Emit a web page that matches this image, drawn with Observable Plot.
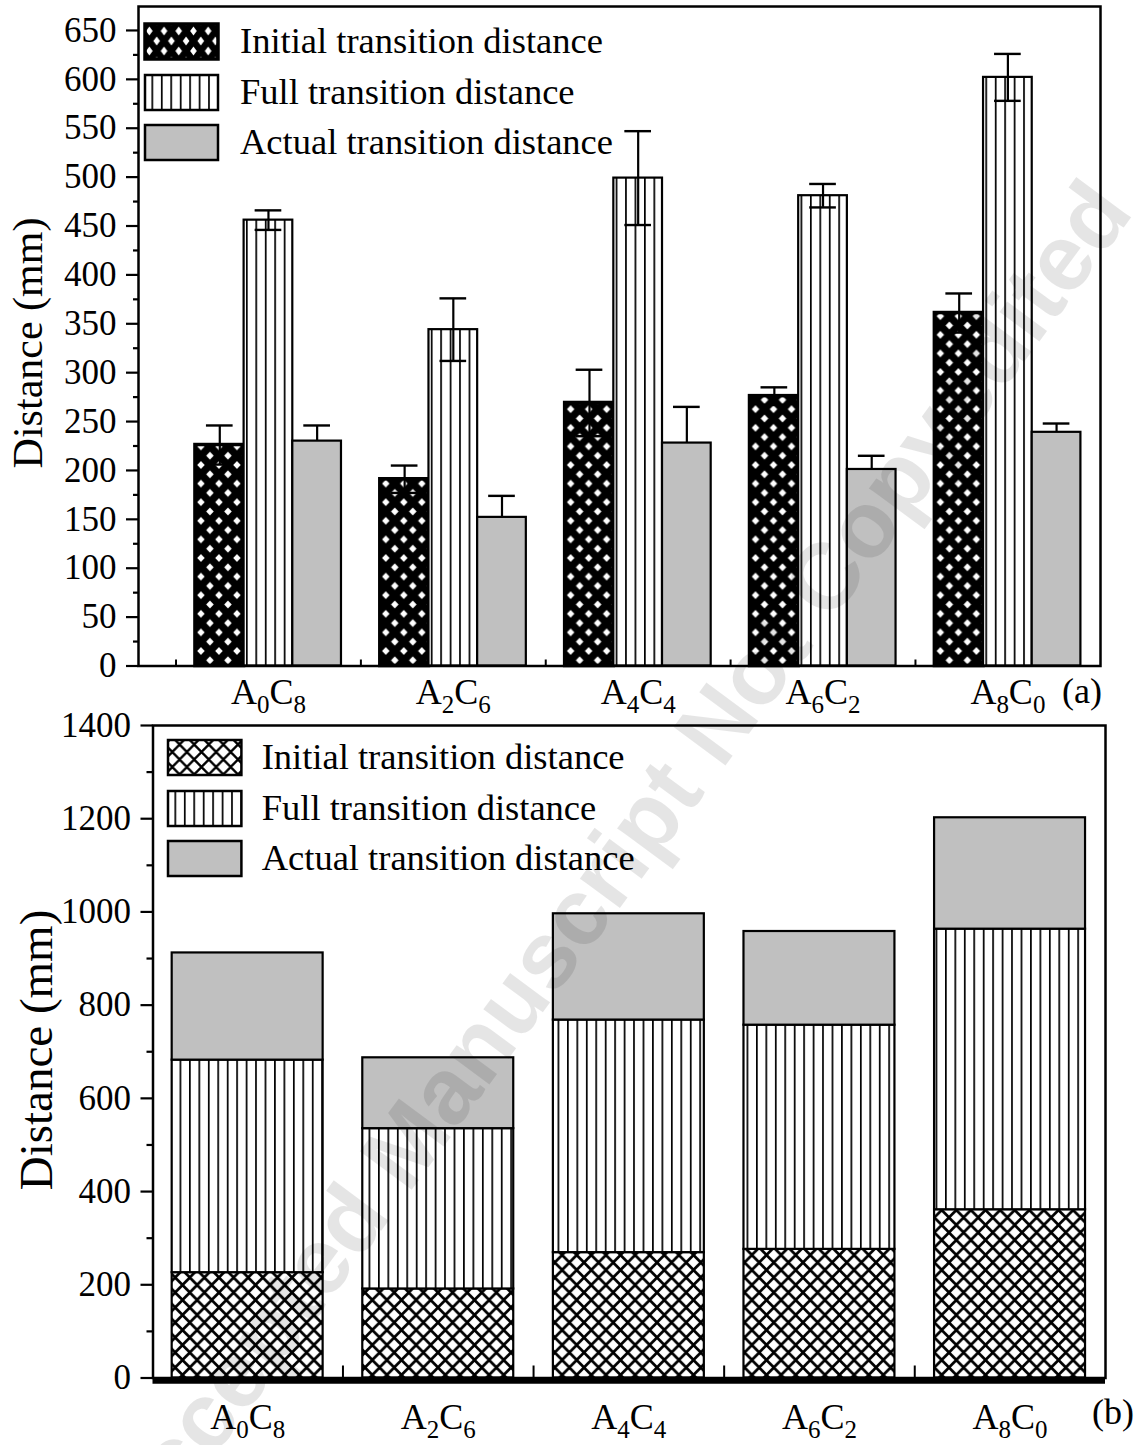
<!DOCTYPE html>
<html><head><meta charset="utf-8">
<script src="https://cdn.jsdelivr.net/npm/d3@7"></script>
<script src="https://cdn.jsdelivr.net/npm/@observablehq/plot@0.6"></script>
<style>
body{margin:0;background:#fff;}
#wrap{position:relative;width:1136px;height:1445px;overflow:hidden;background:#fff;font-family:"Liberation Serif","Times New Roman",serif;color:#000;}
.panel{position:absolute;left:0;}
.leg{position:absolute;font-size:36.5px;line-height:1;white-space:nowrap;}
.sw{position:absolute;}
.ytitle{position:absolute;transform:translate(-50%,-50%) rotate(-90deg);white-space:nowrap;line-height:1;}
.tag{position:absolute;font-size:36px;line-height:1;white-space:nowrap;}
.wm{position:absolute;left:612px;top:865px;transform:translate(-50%,-50%) rotate(-53.5deg);font-family:"Liberation Sans",Arial,sans-serif;font-weight:bold;font-size:94px;color:rgba(0,0,0,0.10);white-space:nowrap;pointer-events:none;line-height:1;}
</style></head>
<body><div id="wrap"></div>
<script>
// ---------------- data ----------------
const categories = ["A0C8", "A2C6", "A4C4", "A6C2", "A8C0"];
const seriesNames = ["Initial transition distance", "Full transition distance", "Actual transition distance"];
const initialDistance = [226, 191, 269, 276, 361];
const fullDistance = [456, 344, 499, 481, 602];
const actualDistance = [230, 152, 228, 201, 239];
const initialError = [20, 14, 34, 9, 20];
const fullError = [10, 32, 48, 12, 24];
const actualError = [16, 22, 37, 14, 9];
const yTicksA = [0, 50, 100, 150, 200, 250, 300, 350, 400, 450, 500, 550, 600, 650];
const yMinorA = [25, 75, 125, 175, 225, 275, 325, 375, 425, 475, 525, 575, 625];
const yTicksB = [0, 200, 400, 600, 800, 1000, 1200, 1400];
const yMinorB = [100, 300, 500, 700, 900, 1100, 1300];

// ---------------- table ----------------
const seriesValues = [initialDistance, fullDistance, actualDistance];
const seriesErrors = [initialError, fullError, actualError];
const rows = [];
categories.forEach((c, i) => seriesNames.forEach((s, k) => rows.push({cat: c, series: s, k, value: seriesValues[k][i], err: seriesErrors[k][i]})));

// ---------------- patterns ----------------
function crossPattern(id, w, h, k, bg, fg) {
  const a = k * w / 2, b = k * h / 2;
  const dia = (cx, cy) => `<polygon fill="${fg}" points="${cx},${cy - b} ${cx + a},${cy} ${cx},${cy + b} ${cx - a},${cy}"/>`;
  return `<pattern id="${id}" patternUnits="userSpaceOnUse" width="${w}" height="${h}">
    <rect width="${w}" height="${h}" fill="${bg}"/>
    ${dia(w / 2, h / 2)}${dia(0, 0)}${dia(w, 0)}${dia(0, h)}${dia(w, h)}</pattern>`;
}
function stripePattern(id, w, lw) {
  return `<pattern id="${id}" patternUnits="userSpaceOnUse" width="${w}" height="10">
    <rect width="${w}" height="10" fill="#fff"/><rect x="0" y="0" width="${lw}" height="10" fill="#000"/></pattern>`;
}
const wrap = document.getElementById("wrap");
wrap.insertAdjacentHTML("beforeend", `<svg width="0" height="0" style="position:absolute;left:0;top:0"><defs>
  ${crossPattern("crossA", 18, 18.6, 0.42, "#000", "#fff")}
  ${crossPattern("crossAL", 14.7, 20, 0.45, "#000", "#fff")}
  ${crossPattern("crossB", 14.6, 15, 0.74, "#000", "#fff")}
  ${crossPattern("crossBL", 14.6, 15, 0.78, "#000", "#fff")}
  ${stripePattern("vstripe", 9.45, 1.7)}
</defs></svg>`);

const font = '"Liberation Serif","Times New Roman",serif';

// category labels with real subscripts (A0C8 -> A₀C₈ drawn with tspans)
function subscriptLabels(svg) {
  const ns = "http://www.w3.org/2000/svg";
  svg.querySelectorAll("text").forEach(t => {
    const m = /^A(\d)C(\d)$/.exec(t.textContent);
    if (!m) return;
    t.textContent = "";
    [["A", 0, null], [m[1], 9, "25px"], ["C", -9, null], [m[2], 9, "25px"]].forEach(([s, dy, fs]) => {
      const sp = document.createElementNS(ns, "tspan");
      sp.textContent = s;
      if (dy) sp.setAttribute("dy", dy);
      if (fs) sp.setAttribute("font-size", fs);
      t.appendChild(sp);
    });
  });
}

// ---------------- panel (a): grouped bars with error bars ----------------
const A = {left: 138, right: 36, width: 1136, pIn: 0.21, pOut: 0.207, align: 0.744, k: 635.5 / 650};
const rangeA = A.width - A.right - A.left;
const stepA = rangeA / (categories.length - A.pIn + 2 * A.pOut);
const spanA = stepA * (categories.length - A.pIn);
const offsetA = (rangeA - spanA) * A.align;      // first facet offset from frame left
const rightOuterA = rangeA - spanA - offsetA;     // last facet gap to frame right
const bwA = stepA * (1 - A.pIn);

const plotA = Plot.plot({
  width: A.width, height: 720,
  marginTop: 6, marginBottom: 54.5, marginLeft: A.left, marginRight: A.right,
  style: {fontFamily: font, fontSize: "36px", background: "transparent", overflow: "visible", color: "#000"},
  fx: {domain: categories, paddingInner: A.pIn, paddingOuter: A.pOut, align: A.align, round: false,
       axis: "bottom", label: null, tickSize: 0, tickPadding: 12},
  x: {domain: seriesNames, paddingInner: 0, paddingOuter: 0, round: false, axis: null},
  y: {domain: [0, 674.5], axis: null},
  color: {domain: seriesNames, range: ["url(#crossA)", "url(#vstripe)", "#c0c0c0"]},
  marks: [
    Plot.barY(rows, {fx: "cat", x: "series", y: "value", fill: "series", stroke: "#000",
                     strokeWidth: d => d.k === 0 ? 3.5 : 2.2}),
    Plot.ruleX(rows, {fx: "cat", x: "series", y1: d => d.k === 2 ? d.value : d.value - d.err, y2: d => d.value + d.err,
                      stroke: "#000", strokeWidth: 2.2}),
    Plot.tickY(rows, {fx: "cat", x: "series", y: d => d.value + d.err, stroke: "#000", strokeWidth: 2.4, insetLeft: 11, insetRight: 11}),
    Plot.tickY(rows.filter(d => d.k !== 2), {fx: "cat", x: "series", y: d => d.value - d.err, stroke: "#000", strokeWidth: 2.4, insetLeft: 11, insetRight: 11}),
    // small inward ticks on the bottom axis, between the groups
    Plot.ruleX(rows.filter(d => d.k === 0), {fx: "cat", x: "series", y1: 0, y2: 6 / A.k, stroke: "#000", strokeWidth: 2,
                      dx: -(stepA * A.pIn) / 2 - bwA / 6}),
    Plot.axisY({ticks: yTicksA, tickSize: 12, tickPadding: 10, fontSize: 35, strokeWidth: 2.2, label: null, dx: -offsetA}),
    Plot.axisY({ticks: yMinorA, tickSize: 5, tickFormat: () => "", strokeWidth: 2.2, label: null, dx: -offsetA}),
    Plot.frame({facet: "super", stroke: "#000", strokeWidth: 2.5, insetLeft: -offsetA, insetRight: -rightOuterA})
  ]
});
subscriptLabels(plotA);
plotA.classList.add("panel");
plotA.style.top = "0px";
wrap.appendChild(plotA);

// ---------------- panel (b): stacked bars ----------------
const B = {left: 152.5, right: 31, width: 1136, pIn: 0.208, pOut: 0.1027, align: 0.49, k: 652.5 / 1400};
const stepB = (B.width - B.right - B.left) / (categories.length - B.pIn + 2 * B.pOut);
const plotB = Plot.plot({
  width: B.width, height: 745,
  marginTop: 25, marginBottom: 67.5, marginLeft: B.left, marginRight: B.right,
  style: {fontFamily: font, fontSize: "36px", background: "transparent", overflow: "visible", color: "#000"},
  x: {domain: categories, paddingInner: B.pIn, paddingOuter: B.pOut, align: B.align, round: false,
      label: null, tickSize: 0, tickPadding: 25},
  y: {domain: [0, 1400], axis: null},
  color: {domain: seriesNames, range: ["url(#crossB)", "url(#vstripe)", "#c0c0c0"]},
  marks: [
    Plot.barY(rows, {x: "cat", y: "value", fill: "series", stroke: "#000", strokeWidth: 2.2}),
    Plot.ruleX(categories.slice(0, -1), {x: d => d, y1: 0, y2: 12 / B.k, stroke: "#000", strokeWidth: 2, dx: stepB / 2}),
    Plot.ruleY([0], {stroke: "#000", strokeWidth: 5.5, dy: 3}),
    Plot.axisY({ticks: yTicksB, tickSize: 12, tickPadding: 10, fontSize: 35, tickFormat: d => String(d), strokeWidth: 2.2, label: null}),
    Plot.axisY({ticks: yMinorB, tickSize: 6, tickFormat: () => "", strokeWidth: 2.2, label: null}),
    Plot.frame({stroke: "#000", strokeWidth: 2.5})
  ]
});
subscriptLabels(plotB);
plotB.classList.add("panel");
plotB.style.top = "700px";
wrap.appendChild(plotB);

// ---------------- legends, titles, tags ----------------
function legend(items) {
  items.forEach(it => {
    wrap.insertAdjacentHTML("beforeend",
      `<svg class="sw" style="left:${it.x - 3}px;top:${it.y - 3}px" width="${it.w + 6}" height="${it.h + 6}">
         <rect x="3" y="3" width="${it.w}" height="${it.h}" fill="${it.fill}" stroke="#000" stroke-width="${it.sw}"/></svg>
       <div class="leg" style="left:${it.tx}px;top:${it.ty}px">${it.text}</div>`);
  });
}
const legendFillsA = ["url(#crossAL)", "url(#vstripe)", "#c0c0c0"];
const legendFillsB = ["url(#crossBL)", "url(#vstripe)", "#c0c0c0"];
legend(seriesNames.map((s, k) => ({x: 145, y: [24, 74.5, 125][k], w: 73, h: 35, fill: legendFillsA[k], sw: k === 0 ? 3.5 : 2.5,
  tx: 240, ty: [23, 73.5, 124][k], text: s})));
legend(seriesNames.map((s, k) => ({x: 168.3, y: [740, 790.5, 840.5][k], w: 73.4, h: 35, fill: legendFillsB[k], sw: 2.5,
  tx: 261.7, ty: [739, 789.5, 839.5][k], text: s})));

wrap.insertAdjacentHTML("beforeend", `
  <div class="ytitle" style="left:28px;top:343px;font-size:42px">Distance (mm)</div>
  <div class="ytitle" style="left:36px;top:1050px;font-size:47px">Distance (mm)</div>
  <div class="tag" style="left:1062px;top:673px">(a)</div>
  <div class="tag" style="left:1092px;top:1394px">(b)</div>
  <div class="wm">Accepted Manuscript Not Copyedited</div>`);
</script>
</body></html>
